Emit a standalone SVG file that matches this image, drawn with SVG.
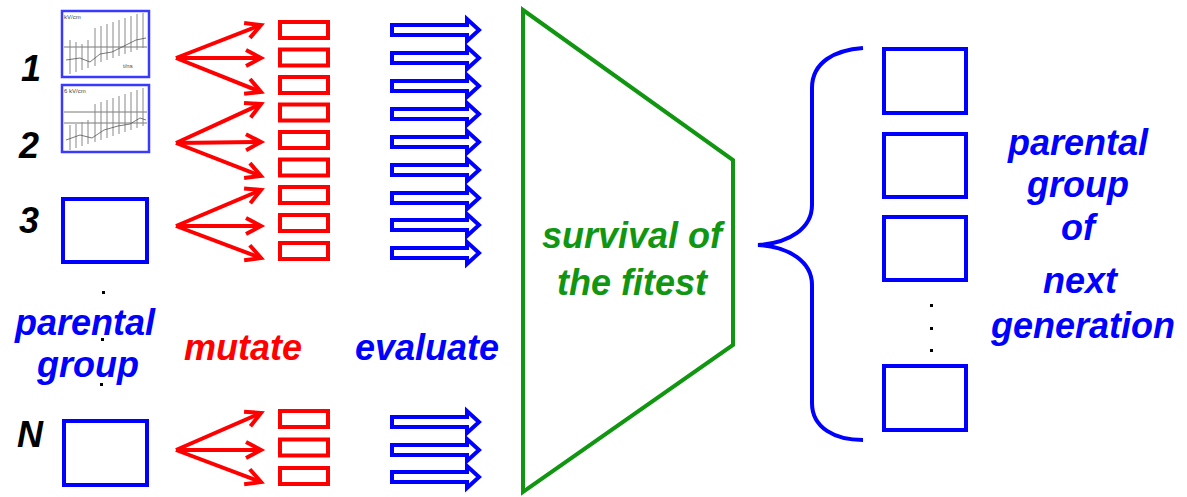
<svg xmlns="http://www.w3.org/2000/svg" width="1187" height="497" viewBox="0 0 1187 497">
<style>
.lbl{font-family:"Liberation Sans",Arial,sans-serif;font-weight:bold;font-style:italic;font-size:36px}
.blue{fill:#0000ff}
.red{fill:#ff0000}
.green{fill:#119611}
.num{fill:#000;font-family:"Liberation Sans",Arial,sans-serif;font-weight:bold;font-style:italic;font-size:36px;text-anchor:middle}
.pbox{fill:none;stroke:#0000ff;stroke-width:4}
.thumb{fill:#fff;stroke:#3a3aff;stroke-width:2.5}
.rbox{fill:#fff;stroke:#ff0000;stroke-width:4}
.rarr{stroke:#ff0000;stroke-width:4;fill:none}
.barr{fill:#fff;stroke:#0000ff;stroke-width:4;stroke-linejoin:miter}
.g{stroke:#888;stroke-width:1;fill:none}
.gd{stroke:#555;stroke-width:0.8;fill:none}
.tiny{font-family:"Liberation Sans",Arial,sans-serif;font-size:6px;fill:#444}
</style>
<defs>
<marker id="rh" markerUnits="userSpaceOnUse" markerWidth="24" markerHeight="24" refX="18" refY="12" orient="auto">
<path d="M3,4 L18,12 L3,20" fill="none" stroke="#ff0000" stroke-width="4"/>
</marker>
<path id="ba" d="M392,-5 L467,-5 L467,-11 L479,0 L467,11 L467,5 L392,5 Z"/>
<rect id="rb" x="280" y="-8" width="48" height="16"/>
</defs>

<g id="parent-1">
<rect class="thumb" x="62" y="11" width="87" height="66"/>
<path class="gd" d="M64,47 H147"/>
<path class="g" d="M70,40 V74 M76,42 V72 M82,44 V70 M88,40 V68 M95,28 V66 M101,26 V62 M107,24 V60 M113,22 V58 M119,20 V56 M125,18 V54 M131,16 V52 M137,14 V50 M143,13 V48"/>
<path class="gd" d="M66,60 L80,58 L90,62 L100,54 L112,52 L124,46 L136,40 L146,38"/>
<text class="tiny" x="64" y="19">kV/cm</text>
<text class="tiny" x="123" y="68">t/ns</text>
</g>
<g id="parent-2">
<rect class="thumb" x="62" y="85" width="87" height="67"/>
<path class="gd" d="M64,112 H147 M64,123 H147"/>
<path class="g" d="M70,125 V150 M76,124 V148 M82,122 V146 M88,120 V144 M95,104 V142 M101,102 V140 M107,100 V138 M113,98 V136 M119,96 V134 M125,94 V132 M131,92 V130 M137,90 V128 M143,88 V126"/>
<path class="gd" d="M66,140 L80,135 L92,138 L104,130 L118,126 L130,124 L140,118 L146,120"/>
<text class="tiny" x="64" y="93">6 kV/cm</text>
</g>
<g id="parent-3"><rect class="pbox" x="63" y="199" width="84" height="63"/></g>
<g id="parent-N"><rect class="pbox" x="64" y="421" width="83" height="64"/></g>

<g id="labels-left">
<text class="num" x="31" y="81">1</text>
<text class="num" x="29" y="158">2</text>
<text class="num" x="29" y="233">3</text>
<text class="num" x="30" y="447">N</text>
<rect x="102" y="291" width="3" height="3" fill="#000"/>
<rect x="101" y="338" width="3" height="3" fill="#000"/>
<rect x="100" y="383" width="3" height="3" fill="#000"/>
<text class="lbl blue" x="85" y="335" text-anchor="middle">parental</text>
<text class="lbl blue" x="88" y="377" text-anchor="middle">group</text>
</g>

<g id="mutated" class="rbox">
<use href="#rb" y="30"/>
<use href="#rb" y="57.5"/>
<use href="#rb" y="85"/>
<use href="#rb" y="112.5"/>
<use href="#rb" y="140"/>
<use href="#rb" y="167.5"/>
<use href="#rb" y="195"/>
<use href="#rb" y="223"/>
<use href="#rb" y="251"/>
<use href="#rb" y="419"/>
<use href="#rb" y="447.5"/>
<use href="#rb" y="476"/>
</g>

<g id="connectors">
<g class="rarr" marker-end="url(#rh)">
<path d="M176,58 L261,25"/>
<path d="M176,58 L261,58"/>
<path d="M176,58 L261,92"/>
<path d="M176,143 L261,104"/>
<path d="M176,143 L261,142"/>
<path d="M176,143 L261,176"/>
<path d="M176,226 L261,190"/>
<path d="M176,226 L261,226"/>
<path d="M176,226 L261,258"/>
<path d="M176,450 L261,413"/>
<path d="M176,450 L261,450"/>
<path d="M176,450 L261,482"/>
</g>
<g class="barr">
<use href="#ba" y="30"/>
<use href="#ba" y="58"/>
<use href="#ba" y="86"/>
<use href="#ba" y="114"/>
<use href="#ba" y="142"/>
<use href="#ba" y="170"/>
<use href="#ba" y="198"/>
<use href="#ba" y="225"/>
<use href="#ba" y="253"/>
<use href="#ba" y="422"/>
<use href="#ba" y="450"/>
<use href="#ba" y="477"/>
</g>
<path d="M863,48 C835,50 812,62 812,88 L812,205 C812,228 790,243 758,245 C790,247 812,262 812,285 L812,403 C812,428 835,440 863,440" fill="none" stroke="#0000ff" stroke-width="4"/>
</g>

<g id="mid-labels">
<text class="lbl red" x="243" y="360" text-anchor="middle">mutate</text>
<text class="lbl blue" x="427" y="360" text-anchor="middle">evaluate</text>
</g>

<g id="selection">
<polygon points="523,10 733,160 733,345 523,492" fill="none" stroke="#119611" stroke-width="4" stroke-linejoin="miter"/>
<text class="lbl green" x="632" y="248" text-anchor="middle">survival of</text>
<text class="lbl green" x="632" y="295" text-anchor="middle">the fitest</text>
</g>

<g id="next-gen">
<rect class="pbox" x="884" y="49" width="82" height="64"/>
<rect class="pbox" x="884" y="134" width="82" height="63"/>
<rect class="pbox" x="884" y="217" width="82" height="63"/>
<rect class="pbox" x="884" y="366" width="82" height="64"/>
<rect x="930" y="304" width="3" height="3" fill="#000"/>
<rect x="930" y="327" width="3" height="3" fill="#000"/>
<rect x="930" y="349" width="3" height="3" fill="#000"/>
<text class="lbl blue" text-anchor="middle"><tspan x="1078" y="155">parental</tspan><tspan x="1078" y="197">group</tspan><tspan x="1078" y="240">of</tspan><tspan x="1080" y="293">next</tspan><tspan x="1083" y="338">generation</tspan></text>
</g>
</svg>
